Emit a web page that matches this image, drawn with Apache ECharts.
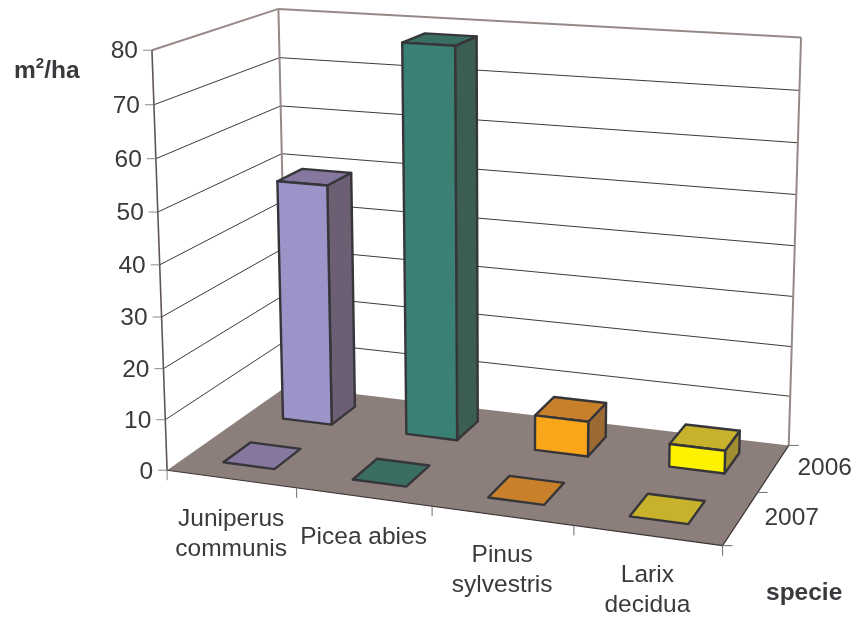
<!DOCTYPE html>
<html>
<head>
<meta charset="utf-8">
<style>html,body{margin:0;padding:0;background:#fff}#c{width:859px;height:619px}</style>
<script src="https://cdn.jsdelivr.net/npm/echarts@6/dist/echarts.min.js"></script>
</head>
<body>
<div id="c"></div>
<script>
// ---- data ----
const categories = ['Juniperus\ncommunis', 'Picea abies', 'Pinus\nsylvestris', 'Larix\ndecidua'];
const rows = ['2007', '2006'];
const yTicks = [0, 10, 20, 30, 40, 50, 60, 70, 80];
const values2006 = [49, 78, 7, 4.5];
const values2007 = [0, 0, 0, 0];

// ---- styles ----
const frontColors = ['#9C94C8', '#3A8074', '#FAA61A', '#FFF200'];
const sideColors  = ['#6C5F74', '#3C5E52', '#9C6A33', '#A08E30'];
const topColors   = ['#85779D', '#3B6E62', '#C8812A', '#C9B22B'];
const FONT = '24.5px "Liberation Sans", Arial, sans-serif';
const BOLD = 'bold 24.5px "Liberation Sans", Arial, sans-serif';
const TEXT = '#3A3A3E', EDGE = '#36363A', WALL = '#968A86';
const BAR_HALF_X = 0.2;  // half the bar width, as a share of a category band
const BAR_HALF_Z = 0.22; // half the bar depth, as a share of a depth row

// Hidden cartesian plot is 400x400 px: its pixels are the world units of the 3D box.
const PLOT = 400;
// Perspective calibration: [plotX, plotY, depth] -> screen, for the frame of the box.
const frameCal = [
  [0,0,0,168,470],[100,0,0,296.7,488],[200,0,0,431.7,507],[300,0,0,572,525.5],[400,0,0,720,545],
  [400,0,1,765,492],[400,0,2,787,445],[0,0,2,285,386],
  [0,400,0,151.5,49.5],[0,350,0,153.5,104.7],[0,300,0,155.5,159],[0,250,0,157.5,212.5],[0,200,0,160,265],[0,50,0,166.5,419.7],
  [0,400,2,278,8],[0,350,2,280.5,58],[0,300,2,282,106],
  [400,400,2,802.5,37.5],[400,350,2,799,90.7],[400,300,2,796.7,143],[400,250,2,795,195]
];
function solve(A, b) {
  const n = b.length, M = A.map((r, i) => r.concat(b[i]));
  for (let i = 0; i < n; i++) {
    let p = i;
    for (let k = i + 1; k < n; k++) if (Math.abs(M[k][i]) > Math.abs(M[p][i])) p = k;
    [M[i], M[p]] = [M[p], M[i]];
    for (let k = 0; k < n; k++) {
      if (k === i) continue;
      const f = M[k][i] / M[i][i];
      for (let j = i; j <= n; j++) M[k][j] -= f * M[i][j];
    }
  }
  return M.map((r, i) => r[n] / r[i]);
}
const P = (function () {
  const S = 500, eqs = [], rhs = [];
  frameCal.forEach(([X, Y, Z, u, v]) => {
    const x = X / PLOT, y = Y / PLOT, z = Z / 2;
    u /= S; v /= S;
    eqs.push([x, y, z, 1, 0, 0, 0, 0, -u * x, -u * y, -u * z]); rhs.push(u);
    eqs.push([0, 0, 0, 0, x, y, z, 1, -v * x, -v * y, -v * z]); rhs.push(v);
  });
  const n = 11, A = [], b = [];
  for (let i = 0; i < n; i++) {
    A.push([]); let s = 0;
    for (let j = 0; j < n; j++) {
      let t = 0;
      eqs.forEach(e => t += e[i] * e[j]);
      A[i].push(t);
    }
    eqs.forEach((e, k) => s += e[i] * rhs[k]);
    b.push(s);
  }
  return solve(A, b);
})();
function project(X, Y, Z) {
  const x = X / PLOT, y = Y / PLOT, z = Z / 2;
  const w = P[8] * x + P[9] * y + P[10] * z + 1;
  return [500 * (P[0] * x + P[1] * y + P[2] * z + P[3]) / w,
          500 * (P[4] * x + P[5] * y + P[6] * z + P[7]) / w];
}
// Screen point for a value on the library's scales, at a given depth.
function at(api, cat, val, depth, dx) {
  const c = api.coord([cat, val]);
  return project(c[0] + (dx || 0), PLOT - c[1], depth);
}
function seg(a, b, stroke, lineWidth) {
  return { type: 'line', shape: { x1: a[0], y1: a[1], x2: b[0], y2: b[1] }, style: { stroke, lineWidth } };
}
function poly(points, fill, stroke, lineWidth) {
  return { type: 'polygon', shape: { points }, style: { fill, stroke: stroke || null, lineWidth: lineWidth || 0, lineJoin: 'round' } };
}
function txt(text, x, y, font, align, va, extra) {
  return { type: 'text', style: Object.assign({ text, x, y, font, fill: TEXT, align, verticalAlign: va }, extra || {}) };
}

function renderWalls(params, api) {
  const v = api.value(1), band = api.size([1, 0])[0], kids = [];
  const L = -band / 2;
  const fl = at(api, 0, v, 0, L), bl = at(api, 0, v, 2, L), br = at(api, 3, v, 2, band / 2);
  if (v === 80) {
    kids.push(seg(fl, bl, WALL, 2), seg(bl, br, WALL, 2));
    kids.push(seg(bl, at(api, 0, 0, 2, L), WALL, 2), seg(br, at(api, 3, 0, 2, band / 2), WALL, 2));
  } else if (v > 0) {
    kids.push(seg(fl, bl, '#3E3A3A', 1), seg(bl, br, '#3E3A3A', 1));
  }
  return { type: 'group', children: kids };
}
function renderFloor(params, api) {
  const b = api.size([1, 0])[0], L = -b / 2;
  const a = at(api, 0, 0, 0, L), c = at(api, 3, 0, 0, b / 2), d = at(api, 3, 0, 2, b / 2), e = at(api, 0, 0, 2, L);
  return { type: 'group', children: [
    poly([a, c, d, e], '#8C7F7B'),
    seg(a, c, '#3E3636', 1.2), seg(c, d, '#3E3636', 1.2)
  ] };
}
function renderLeftAxis(params, api) {
  const v = api.value(1), b = api.size([1, 0])[0], p = at(api, 0, v, 0, -b / 2), kids = [];
  kids.push(seg([p[0] - 9, p[1]], p, '#8A8A8A', 1));
  kids.push(txt(String(v), p[0] - 14, p[1] + 1.5, FONT, 'right', 'middle'));
  if (v > 0) kids.push(seg(p, at(api, 0, v - 10, 0, -b / 2), '#5F5555', 1.6));
  else kids.push(seg(p, [p[0], p[1] + 10], '#8A8A8A', 1));
  return { type: 'group', children: kids };
}
function renderCategory(params, api) {
  const i = api.value(0), b = api.size([1, 0])[0];
  const e = at(api, i, 0, 0, b / 2), m = at(api, i, 0, 0);
  return { type: 'group', children: [
    seg(e, [e[0], e[1] + 10], '#6E6E6E', 1),
    txt(categories[i], m[0], m[1] + 25, FONT, 'center', 'top', { lineHeight: 30 })
  ] };
}
function renderRow(params, api) {
  const r = api.value(0), b = api.size([1, 0])[0];
  const t0 = at(api, 3, 0, r, b / 2), t1 = at(api, 3, 0, r + 1, b / 2), m = at(api, 3, 0, r + 0.5, b / 2);
  const kids = [seg(t1, [t1[0] + 10, t1[1]], '#6E6E6E', 1), txt(rows[r], m[0] + 51, m[1], FONT, 'center', 'middle')];
  if (r === 0) kids.push(seg(t0, [t0[0] + 10, t0[1]], '#6E6E6E', 1));
  return { type: 'group', children: kids };
}
function barRenderer(rowIndex) {
  return function (params, api) {
    const i = api.value(0), v = api.value(1), b = api.size([1, 0])[0], h = b * BAR_HALF_X;
    const z0 = rowIndex + 0.5 - BAR_HALF_Z, z1 = rowIndex + 0.5 + BAR_HALF_Z;
    const q = (dx, val, z) => at(api, i, val, z, dx);
    const kids = [];
    if (v > 0) {
      kids.push(poly([q(h, 0, z0), q(h, 0, z1), q(h, v, z1), q(h, v, z0)], sideColors[i], EDGE, 2.4));
    }
    kids.push(poly([q(-h, v, z0), q(h, v, z0), q(h, v, z1), q(-h, v, z1)], topColors[i], EDGE, 2.4));
    if (v > 0) {
      kids.push(poly([q(-h, 0, z0), q(h, 0, z0), q(h, v, z0), q(-h, v, z0)], frontColors[i], EDGE, 2.4));
    }
    return { type: 'group', children: kids };
  };
}
const tickData = yTicks.map(v => [0, v]);
const catData = categories.map((c, i) => [i, 0]);
const custom = (name, z, data, renderItem) => ({ name, type: 'custom', coordinateSystem: 'cartesian2d', clip: false, silent: true, z, data, renderItem, animation: false });

const chart = echarts.init(document.getElementById('c'), null, { renderer: 'canvas' });
chart.setOption({
  animation: false,
  backgroundColor: '#ffffff',
  grid: { left: 0, top: 0, width: PLOT, height: PLOT, show: false },
  xAxis: { type: 'category', data: categories, show: false },
  yAxis: { type: 'value', min: 0, max: 80, interval: 10, show: false },
  graphic: [
    { type: 'text', left: 14, top: 56, style: {
        text: '{a|m}{b|2}{a|/ha}',
        rich: {
          a: { font: BOLD, fill: TEXT, lineHeight: 30 },
          b: { font: 'bold 15px "Liberation Sans", Arial, sans-serif', fill: TEXT, verticalAlign: 'top', lineHeight: 22 }
        } } },
    { type: 'text', left: 766, top: 581, style: { text: 'specie', font: BOLD, fill: TEXT } }
  ],
  series: [
    custom('walls', 1, tickData, renderWalls),
    custom('floor', 2, [[0, 0]], renderFloor),
    custom('yAxis', 3, tickData, renderLeftAxis),
    custom('xAxis', 3, catData, renderCategory),
    custom('depthAxis', 3, rows.map((r, i) => [i, 0]), renderRow),
    custom('2006', 4, values2006.map((v, i) => [i, v]), barRenderer(1)),
    custom('2007', 5, values2007.map((v, i) => [i, v]), barRenderer(0))
  ]
});
</script>
</body>
</html>
